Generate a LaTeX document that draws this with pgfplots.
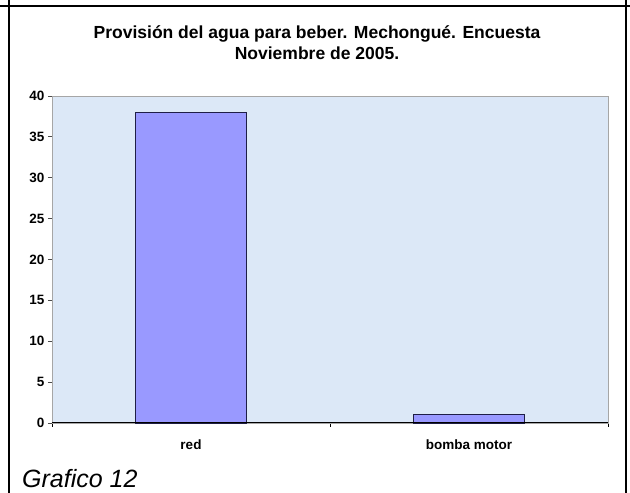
\documentclass[border=0pt]{standalone}
\usepackage{fontspec}
\setmainfont{Liberation Sans}
\usepackage{pgfplots}
\pgfplotsset{compat=1.18}
\definecolor{plotbg}{RGB}{220,232,247}
\definecolor{barfill}{RGB}{153,153,255}
\definecolor{baredge}{RGB}{30,30,70}
\begin{document}
\begin{tikzpicture}
\useasboundingbox (0,0) rectangle (630pt,493pt);
\fill[white] (0,0) rectangle (630pt,493pt);
\begin{axis}[
  at={(52pt,70pt)}, anchor=south west,
  scale only axis, width=556pt, height=327pt,
  xmin=-0.5, xmax=1.5, ymin=0, ymax=40,
  ytick={0,5,...,40},
  xtick={0,1}, xticklabels={red,bomba motor},
  minor xtick={-0.5,0.5,1.5},
  xtick pos=bottom, ytick pos=left,
  tick align=outside,
  major tick length=4pt, minor tick length=4pt,
  major x tick style={draw=none},
  minor x tick style={black, line width=0.8pt},
  major y tick style={black!70, line width=0.8pt},
  axis line style={black!35, line width=0.6pt},
  axis background/.style={fill=plotbg},
  yticklabel style={font=\fontsize{13.5}{15}\selectfont\bfseries},
  xticklabel style={font=\fontsize{13.5}{15}\selectfont\bfseries, yshift=-9pt},
  /pgf/number format/assume math mode=true,
  ybar, bar width=111pt,
  clip=false,
]
\addplot[fill=barfill, draw=baredge, line width=0.8pt] coordinates {(0,38) (1,1)};
\draw[black, line width=1pt] (axis cs:-0.5,0) -- (axis cs:1.5,0);
\end{axis}
\node[anchor=base, inner sep=0] at (317pt,454.5pt) {\fontsize{17.5}{21}\selectfont\bfseries Provisión del agua para beber. Mechongué. Encuesta};
\node[anchor=base, inner sep=0] at (317pt,433.5pt) {\fontsize{17.5}{21}\selectfont\bfseries Noviembre de 2005.};
\node[anchor=base west, inner sep=0] at (22pt,5pt) {\fontsize{25}{30}\selectfont\itshape Grafico 12};
\draw[line width=2.5pt] (0,487pt) -- (630pt,487pt);
\draw[line width=2.5pt] (9pt,0) -- (9pt,493pt);
\draw[line width=2.5pt] (626pt,0) -- (626pt,493pt);
\end{tikzpicture}
\end{document}
